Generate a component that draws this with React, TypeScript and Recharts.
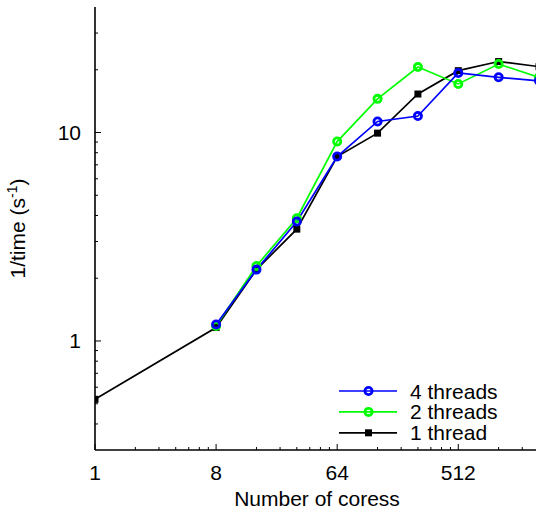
import React from 'react';
import { LineChart, Line, XAxis, YAxis, Legend } from 'recharts';

const cores = [1, 8, 16, 32, 64, 128, 256, 512, 1024, 2048];
const thread4: (number | null)[] = [null, 1.2, 2.2, 3.74, 7.67, 11.3, 12.0, 19.3, 18.4, 17.7];
const thread2: (number | null)[] = [null, 1.18, 2.29, 3.88, 9.05, 14.5, 20.6, 17.1, 21.3, 18.4];
const thread1: (number | null)[] = [0.525, 1.16, 2.2, 3.44, 7.67, 9.93, 15.3, 19.8, 21.9, 20.7];

const xMajorTicks = [1, 8, 64, 512];
const xMinorTicks = [2, 3, 4, 5, 6, 7, 16, 24, 32, 40, 48, 56, 128, 192, 256, 320, 384, 448, 1024, 1536];
const yMajorTicks = [1, 10];
const yMinorTicks = [0.4, 0.5, 0.6, 0.7, 0.8, 0.9, 2, 3, 4, 5, 6, 7, 8, 9, 20, 30];

const seriesNames = ['4 threads', '2 threads', '1 thread'];
const seriesColors = ['#0000ff', '#00ff00', '#000000'];

const xDomain = [1, 2048];
const yDomain = [0.3, 40];

const FONT = '"Liberation Sans", Arial, Helvetica, sans-serif';

const data = cores.map((c, i) => ({ cores: c, t4: thread4[i], t2: thread2[i], t1: thread1[i] }));
const xTicks = [...xMajorTicks, ...xMinorTicks].sort((a, b) => a - b);
const yTicks = [...yMajorTicks, ...yMinorTicks].sort((a, b) => a - b);

const BottomTick = (props: any) => {
  const { x, y, payload } = props;
  const major = xMajorTicks.includes(payload.value);
  return (
    <g>
      <line x1={x} x2={x} y1={y} y2={y - (major ? 6 : 3)} stroke="#000" strokeWidth={1} />
      {major && (
        <text x={x} y={y + 30} textAnchor="middle" fontSize={21} fontFamily={FONT} fill="#000">
          {payload.value}
        </text>
      )}
    </g>
  );
};

const TopTick = (props: any) => {
  const { x, y, payload } = props;
  const major = xMajorTicks.includes(payload.value);
  return <line x1={x} x2={x} y1={y} y2={y + (major ? 6 : 3)} stroke="#000" strokeWidth={1} />;
};

const LeftTick = (props: any) => {
  const { x, y, payload } = props;
  const major = yMajorTicks.includes(payload.value);
  return (
    <g>
      <line x1={x} x2={x + (major ? 6 : 3)} y1={y} y2={y} stroke="#000" strokeWidth={1} />
      {major && (
        <text x={x - 14} y={y + 7.5} textAnchor="end" fontSize={21} fontFamily={FONT} fill="#000">
          {payload.value}
        </text>
      )}
    </g>
  );
};

const RightTick = (props: any) => {
  const { x, y, payload } = props;
  const major = yMajorTicks.includes(payload.value);
  return <line x1={x} x2={x - (major ? 6 : 3)} y1={y} y2={y} stroke="#000" strokeWidth={1} />;
};

const makeCircleDot = (color: string) => (props: any) => {
  const { cx, cy, index, value } = props;
  if (cx == null || cy == null || value == null) return <g key={`e${index}`} />;
  return <circle key={`c${index}`} cx={cx} cy={cy} r={3.6} fill="none" stroke={color} strokeWidth={2.8} />;
};

const squareDot = (props: any) => {
  const { cx, cy, index, value } = props;
  if (cx == null || cy == null || value == null) return <g key={`e${index}`} />;
  return <rect key={`s${index}`} x={cx - 3.5} y={cy - 3.5} width={7} height={7} fill="#000" />;
};

const LegendBox = () => (
  <svg width={206} height={72} style={{ display: 'block' }}>
    {seriesNames.map((n, i) => {
      const cy = 16 + i * 20.9;
      const color = seriesColors[i];
      return (
        <g key={n}>
          <line x1={9} x2={67} y1={cy} y2={cy} stroke={color} strokeWidth={1.7} />
          {i < 2 ? (
            <circle cx={38.5} cy={cy} r={3.6} fill="none" stroke={color} strokeWidth={2.8} />
          ) : (
            <rect x={35} y={cy - 3.5} width={7} height={7} fill="#000" />
          )}
          <text x={80} y={cy + 7.5} fontSize={21} fontFamily={FONT} fill="#000">
            {n}
          </text>
        </g>
      );
    })}
  </svg>
);

const XTitle = (props: any) => {
  const vb = props.viewBox || { x: 95, y: 450, width: 444 };
  return (
    <text x={vb.x + vb.width / 2} y={vb.y + 56} textAnchor="middle" fontSize={21} fontFamily={FONT} fill="#000">
      Number of coress
    </text>
  );
};

const YTitle = (props: any) => {
  const vb = props.viewBox || { x: 0, y: 7, height: 443 };
  const cy = vb.y + vb.height / 2;
  return (
    <text transform={`translate(25, ${cy}) rotate(-90)`} textAnchor="middle" fontSize={21} fontFamily={FONT} fill="#000">
      1/time (s
      <tspan dy={-8} fontSize={14}>-1</tspan>
      <tspan dy={8}>)</tspan>
    </text>
  );
};

export default function App() {
  return (
    <div style={{ position: 'absolute', left: 0, top: 0, width: 536, height: 517, overflow: 'hidden', background: '#fff' }}>
      <LineChart width={545} height={517} data={data} margin={{ top: 7, right: 6, bottom: 0, left: 0 }}>
        <XAxis
          xAxisId="b"
          dataKey="cores"
          type="number"
          scale="log"
          domain={xDomain}
          allowDataOverflow
          ticks={xTicks}
          interval={0}
          tick={<BottomTick />}
          tickLine={false}
          tickSize={0}
          tickMargin={0}
          height={67}
          axisLine={{ stroke: '#000', strokeWidth: 1.6 }}
          label={{ content: <XTitle /> }}
        />
        <XAxis
          xAxisId="t"
          dataKey="cores"
          orientation="top"
          type="number"
          scale="log"
          domain={xDomain}
          allowDataOverflow
          ticks={xTicks}
          interval={0}
          tick={<TopTick />}
          tickLine={false}
          tickSize={0}
          tickMargin={0}
          height={0}
          axisLine={{ stroke: '#000', strokeWidth: 1.8 }}
        />
        <YAxis
          yAxisId="l"
          type="number"
          scale="log"
          domain={yDomain}
          allowDataOverflow
          ticks={yTicks}
          interval={0}
          tick={<LeftTick />}
          tickLine={false}
          tickSize={0}
          tickMargin={0}
          width={95}
          axisLine={{ stroke: '#000', strokeWidth: 1.6 }}
          label={{ content: <YTitle /> }}
        />
        <YAxis
          yAxisId="r"
          orientation="right"
          type="number"
          scale="log"
          domain={yDomain}
          allowDataOverflow
          ticks={yTicks}
          interval={0}
          tick={<RightTick />}
          tickLine={false}
          tickSize={0}
          tickMargin={0}
          width={0}
          axisLine={{ stroke: '#000', strokeWidth: 1.6 }}
        />
        <Line
          xAxisId="t"
          yAxisId="r"
          dataKey="t1"
          stroke="none"
          dot={false}
          activeDot={false}
          legendType="none"
          isAnimationActive={false}
        />
        <Line
          xAxisId="b"
          yAxisId="l"
          dataKey="t1"
          name={seriesNames[2]}
          stroke={seriesColors[2]}
          strokeWidth={1.7}
          dot={squareDot}
          activeDot={false}
          isAnimationActive={false}
        />
        <Line
          xAxisId="b"
          yAxisId="l"
          dataKey="t2"
          name={seriesNames[1]}
          stroke={seriesColors[1]}
          strokeWidth={1.7}
          dot={makeCircleDot(seriesColors[1])}
          activeDot={false}
          isAnimationActive={false}
        />
        <Line
          xAxisId="b"
          yAxisId="l"
          dataKey="t4"
          name={seriesNames[0]}
          stroke={seriesColors[0]}
          strokeWidth={1.7}
          dot={makeCircleDot(seriesColors[0])}
          activeDot={false}
          isAnimationActive={false}
        />
        <Legend
          content={<LegendBox />}
          layout="vertical"
          align="center"
          verticalAlign="middle"
          wrapperStyle={{ left: 330, top: 375, width: 206, height: 72 }}
        />
      </LineChart>
    </div>
  );
}
